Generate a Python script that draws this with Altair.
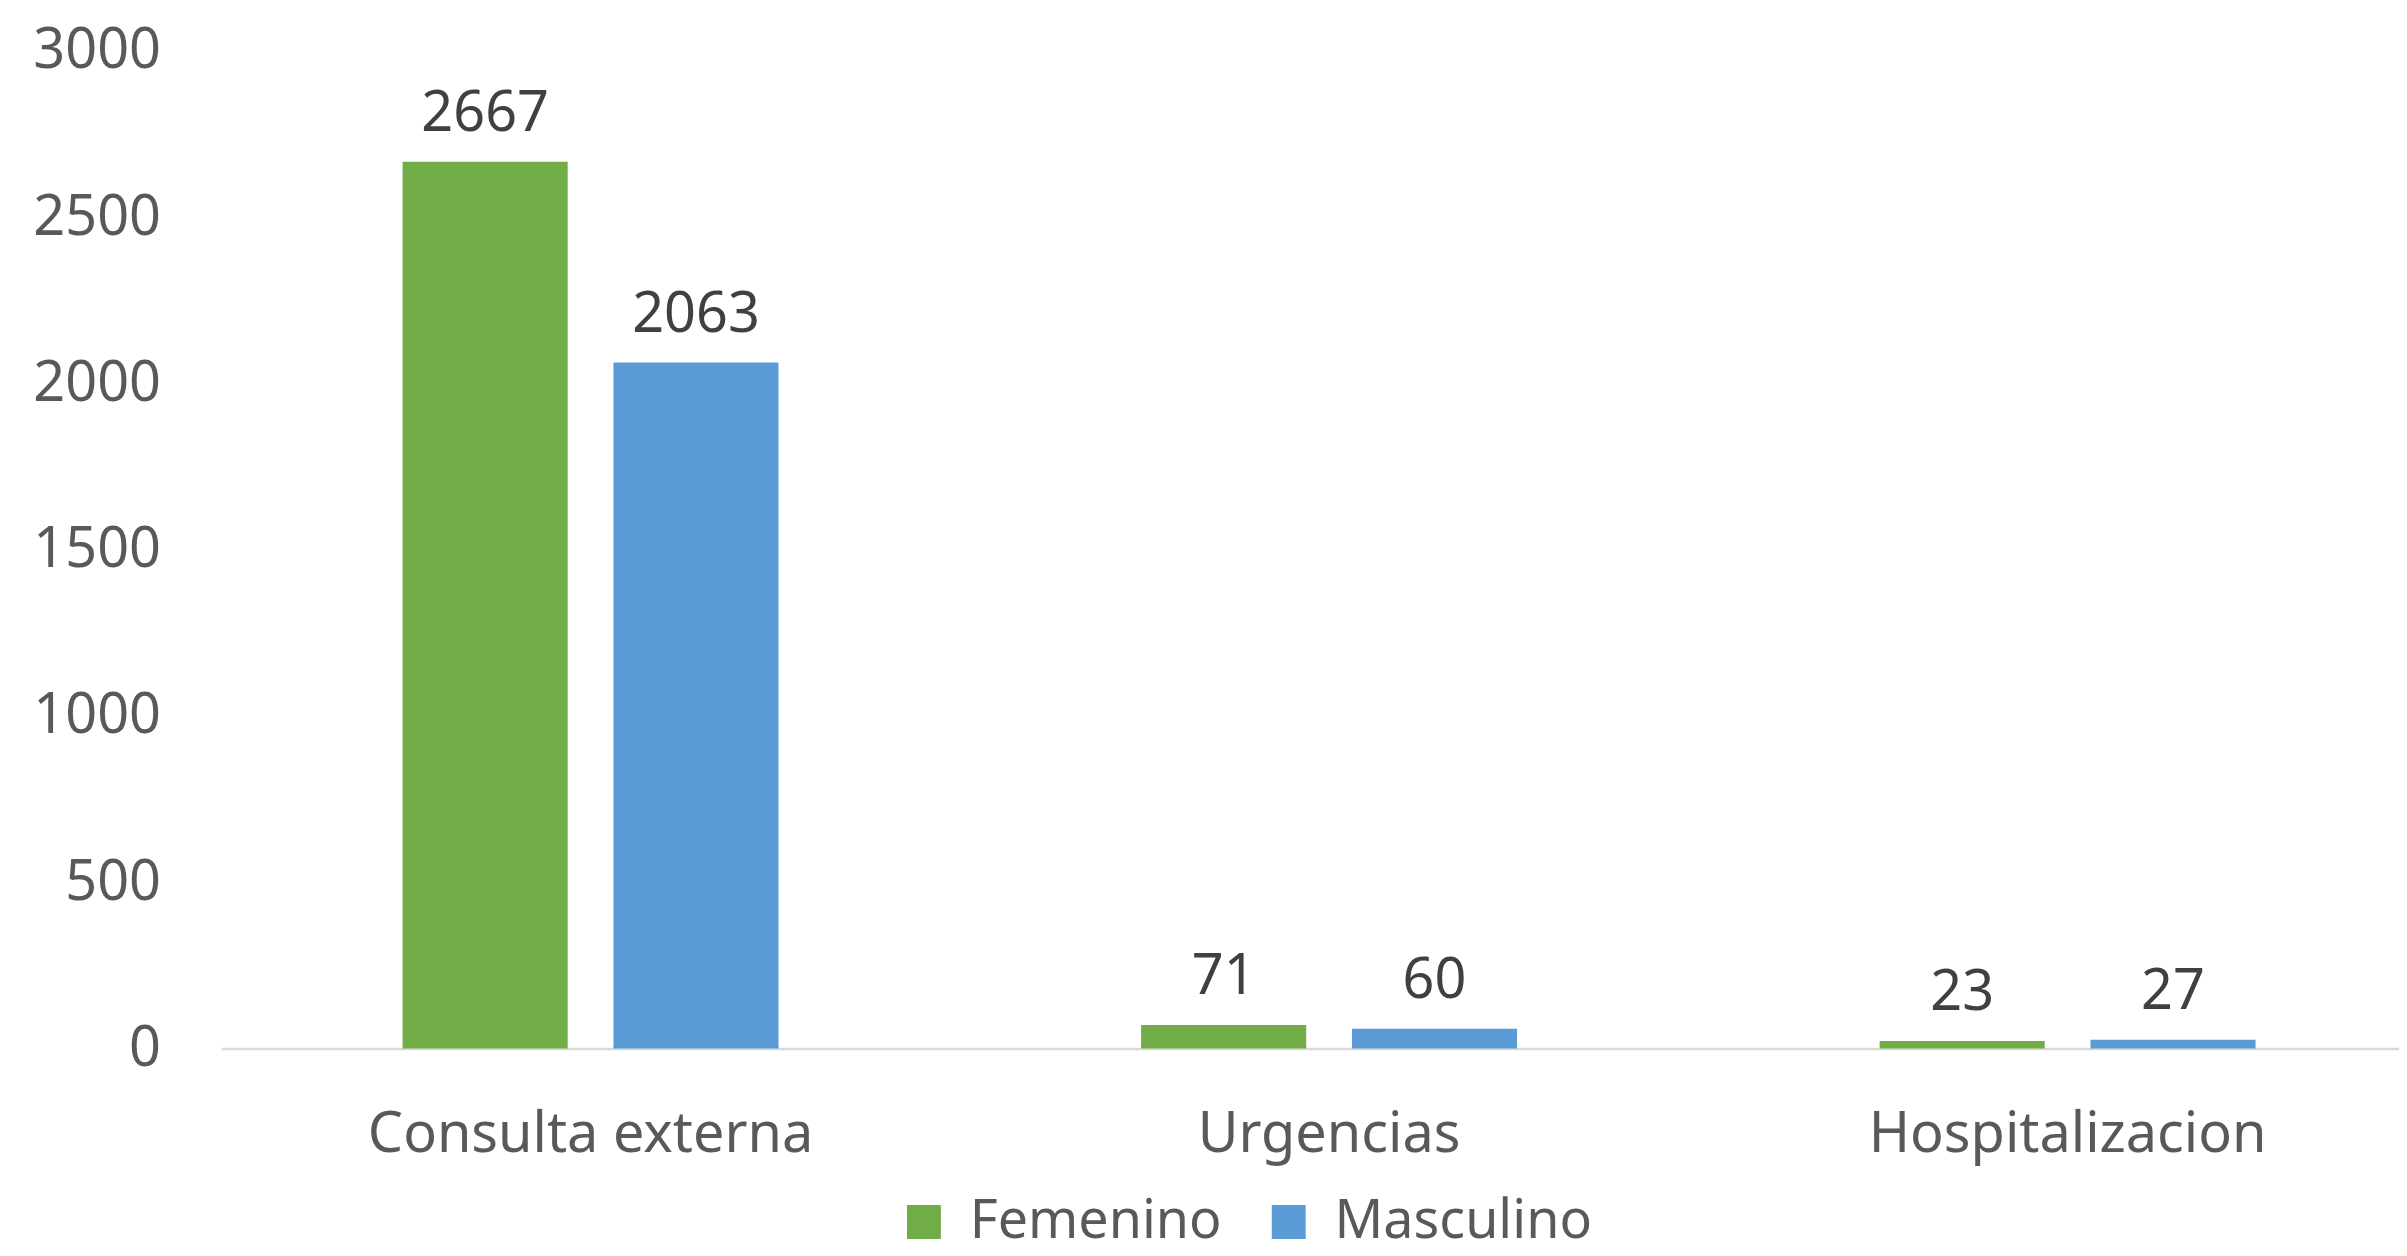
import altair as alt
import pandas as pd

categories = ["Consulta externa", "Urgencias", "Hospitalizacion"]
femenino = [2667, 71, 23]
masculino = [2063, 60, 27]
series = ["Femenino", "Masculino"]
colors = ["#70AD47", "#5B9BD5"]
y_ticks = [0, 500, 1000, 1500, 2000, 2500, 3000]

rows = []
for c, f, m in zip(categories, femenino, masculino):
    rows.append({"cat": c, "sexo": "Femenino", "val": f})
    rows.append({"cat": c, "sexo": "Masculino", "val": m})
df = pd.DataFrame(rows)

FONT = "Noto Sans"
FS = 56

x = alt.X(
    "cat:N",
    sort=categories,
    title=None,
    scale=alt.Scale(range=[0, 2223], paddingInner=0.491, paddingOuter=0.2455),
    axis=alt.Axis(
        labelAngle=0,
        ticks=False,
        tickSize=0,
        domainColor="#D9D9D9",
        domainWidth=2.5,
        labelFont=FONT,
        labelFontSize=FS,
        labelColor="#595959",
        labelBaseline="middle",
        labelPadding=86,
        labelLimit=0,
        grid=False,
    ),
)
xoff = alt.XOffset(
    "sexo:N",
    sort=series,
    scale=alt.Scale(paddingInner=0.217, paddingOuter=0),
)
y = alt.Y(
    "val:Q",
    title=None,
    scale=alt.Scale(domain=[0, 3000], nice=False),
    axis=alt.Axis(
        values=y_ticks,
        format="d",
        grid=False,
        domain=False,
        ticks=False,
        tickSize=0,
        labelFont=FONT,
        labelFontSize=FS,
        labelColor="#595959",
        labelPadding=61,
    ),
)
color = alt.Color(
    "sexo:N",
    sort=series,
    scale=alt.Scale(domain=series, range=colors),
    legend=alt.Legend(
        title=None,
        orient="none",
        direction="horizontal",
        legendX=678,
        legendY=1148,
        symbolType="square",
        symbolSize=1156,
        symbolStrokeWidth=0,
        labelFont=FONT,
        labelFontSize=54,
        labelColor="#595959",
        labelBaseline="middle",
        labelOffset=19,
        labelLimit=0,
        columnPadding=40,
    ),
)

bars = alt.Chart(df).mark_bar().encode(x=x, xOffset=xoff, y=y, color=color)
labels = alt.Chart(df).mark_text(
    dy=-48, baseline="middle", align="center", font=FONT, fontSize=FS, color="#404040"
).encode(x=x, xOffset=xoff, y=y, text="val:Q")

chart = (
    alt.layer(bars, labels)
    .properties(
        width=2185,
        height=1001,
        autosize=alt.AutoSizeParams(type="none"),
        padding={"left": 214, "top": 41, "right": 0, "bottom": 206},
    )
    .configure_view(stroke=None)
)

chart.save("out.html", embed_options={"renderer": "svg", "actions": False})
